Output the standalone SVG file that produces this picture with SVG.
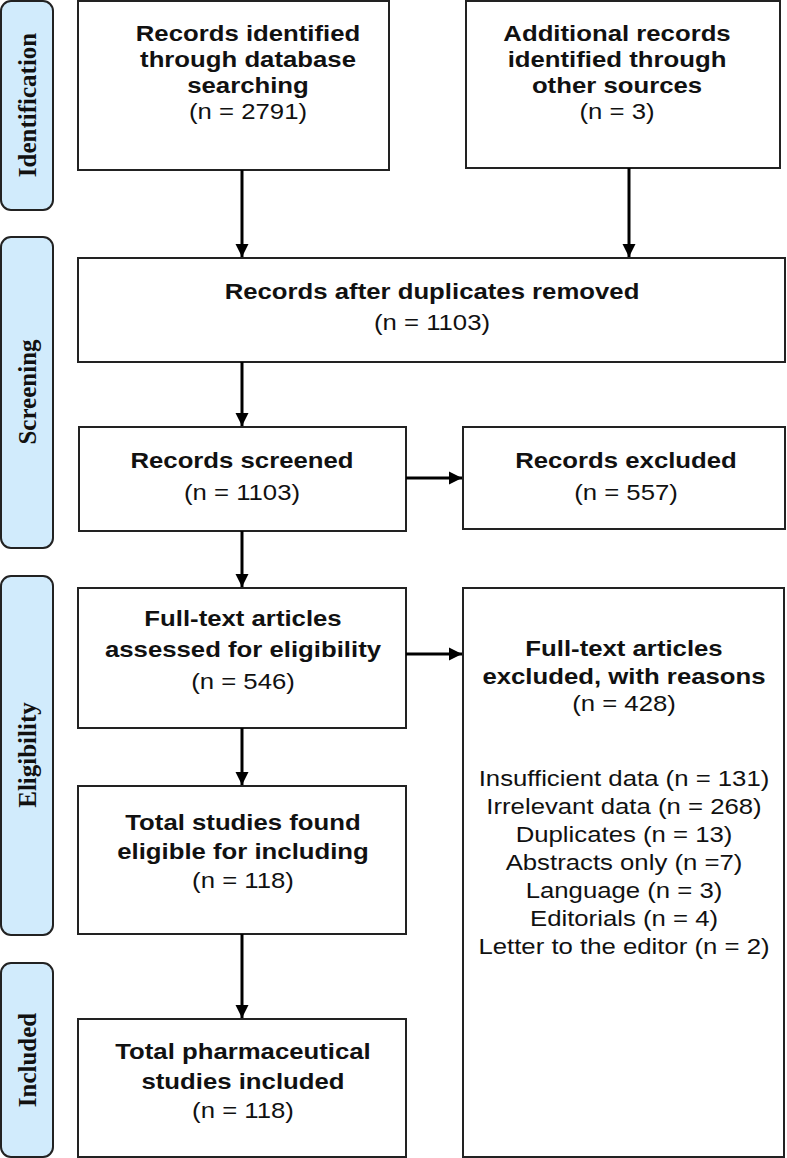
<svg xmlns="http://www.w3.org/2000/svg" width="787" height="1158" viewBox="0 0 787 1158">
<style>
.side{fill:#d1ebfc;stroke:#222;stroke-width:2}
.box{fill:#fff;stroke:#222;stroke-width:2}
.lbl{font-family:"Liberation Serif","Times New Roman",serif;font-weight:bold;font-size:25px;fill:#111;text-anchor:middle}
.t{font-family:"Liberation Sans",Arial,sans-serif;font-weight:bold;font-size:22px;fill:#111;text-anchor:middle}
.n{font-family:"Liberation Sans",Arial,sans-serif;font-size:22px;fill:#111;text-anchor:middle}
.c{stroke:#000;stroke-width:3;fill:none;marker-end:url(#ah)}
</style>
<defs>
<marker id="ah" markerUnits="userSpaceOnUse" markerWidth="14" markerHeight="14" refX="13" refY="7" orient="auto">
<path d="M0,0.5 L13,7 L0,13.5 Z" fill="#000"/>
</marker>
</defs>
<g id="stage-identification"><rect class="side" x="1" y="1" width="52" height="209" rx="10"/><text class="lbl" transform="translate(36,105) rotate(-90)">Identification</text></g>
<g id="stage-screening"><rect class="side" x="1" y="237" width="52" height="311" rx="10"/><text class="lbl" transform="translate(36,392) rotate(-90)">Screening</text></g>
<g id="stage-eligibility"><rect class="side" x="1" y="576" width="52" height="359" rx="10"/><text class="lbl" transform="translate(36,755) rotate(-90)">Eligibility</text></g>
<g id="stage-included"><rect class="side" x="1" y="963" width="52" height="194" rx="10"/><text class="lbl" transform="translate(36,1060) rotate(-90)">Included</text></g>

<g id="db-records"><rect class="box" x="78" y="1" width="311" height="169"/>
<g transform="translate(248 0) scale(1.17 1)">
<text class="t" x="0" y="41">Records identified</text>
<text class="t" x="0" y="67">through database</text>
<text class="t" x="0" y="93">searching</text>
<text class="n" x="0" y="119">(n = 2791)</text></g></g>

<g id="other-records"><rect class="box" x="466" y="1" width="314" height="167"/>
<g transform="translate(617 0) scale(1.17 1)">
<text class="t" x="0" y="41">Additional records</text>
<text class="t" x="0" y="67">identified through</text>
<text class="t" x="0" y="93">other sources</text>
<text class="n" x="0" y="119">(n = 3)</text></g></g>

<g id="after-duplicates"><rect class="box" x="78" y="258" width="707" height="104"/>
<g transform="translate(432 0) scale(1.17 1)">
<text class="t" x="0" y="299">Records after duplicates removed</text>
<text class="n" x="0" y="330">(n = 1103)</text></g></g>

<g id="screened"><rect class="box" x="79" y="427" width="327" height="104"/>
<g transform="translate(242 0) scale(1.17 1)">
<text class="t" x="0" y="468">Records screened</text>
<text class="n" x="0" y="500">(n = 1103)</text></g></g>

<g id="excluded"><rect class="box" x="463" y="427" width="322" height="102"/>
<g transform="translate(626 0) scale(1.17 1)">
<text class="t" x="0" y="468">Records excluded</text>
<text class="n" x="0" y="500">(n = 557)</text></g></g>

<g id="fulltext"><rect class="box" x="78" y="588" width="328" height="140"/>
<g transform="translate(243 0) scale(1.17 1)">
<text class="t" x="0" y="626">Full-text articles</text>
<text class="t" x="0" y="657">assessed for eligibility</text>
<text class="n" x="0" y="689">(n = 546)</text></g></g>

<g id="fulltext-excluded"><rect class="box" x="463" y="588" width="321" height="569"/>
<g transform="translate(624 0) scale(1.17 1)">
<text class="t" x="0" y="656">Full-text articles</text>
<text class="t" x="0" y="684">excluded, with reasons</text>
<text class="n" x="0" y="711">(n = 428)</text>
<text class="n" x="0" y="786">Insufficient data (n = 131)</text>
<text class="n" x="0" y="814">Irrelevant data (n = 268)</text>
<text class="n" x="0" y="842">Duplicates (n = 13)</text>
<text class="n" x="0" y="870">Abstracts only (n =7)</text>
<text class="n" x="0" y="898">Language (n = 3)</text>
<text class="n" x="0" y="926">Editorials (n = 4)</text>
<text class="n" x="0" y="954">Letter to the editor (n = 2)</text></g></g>

<g id="eligible"><rect class="box" x="78" y="786" width="328" height="148"/>
<g transform="translate(243 0) scale(1.17 1)">
<text class="t" x="0" y="830">Total studies found</text>
<text class="t" x="0" y="859">eligible for including</text>
<text class="n" x="0" y="888">(n = 118)</text></g></g>

<g id="included"><rect class="box" x="78" y="1019" width="328" height="138"/>
<g transform="translate(243 0) scale(1.17 1)">
<text class="t" x="0" y="1059">Total pharmaceutical</text>
<text class="t" x="0" y="1089">studies included</text>
<text class="n" x="0" y="1118">(n = 118)</text></g></g>

<g id="connectors">
<path class="c" d="M242,170 V257"/>
<path class="c" d="M629,168 V257"/>
<path class="c" d="M242,362 V426"/>
<path class="c" d="M406,478 H462"/>
<path class="c" d="M242,531 V587"/>
<path class="c" d="M406,654 H462"/>
<path class="c" d="M242,728 V785"/>
<path class="c" d="M242,934 V1018"/>
</g>
</svg>
